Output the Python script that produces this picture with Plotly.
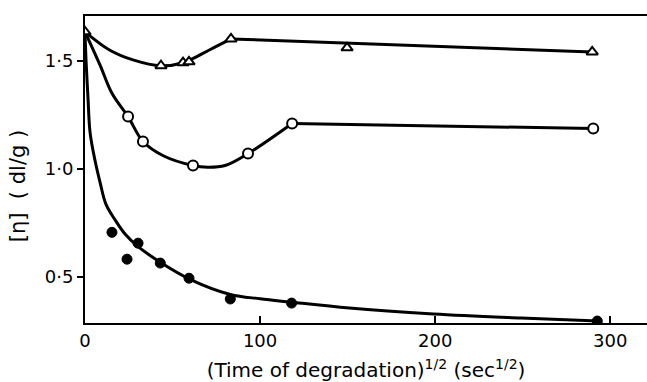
import plotly.graph_objects as go

# --- data ---
# triangles (open)
tri_x = [0, 43.4, 56, 59.4, 83.4, 149.7, 289.7]
tri_y = [1.634, 1.477, 1.491, 1.495, 1.601, 1.56, 1.541]
tri_curve_x = [0, 14, 27.4, 43.4, 56, 71, 83.4]
tri_curve_y = [1.634, 1.55, 1.504, 1.477, 1.491, 1.55, 1.601]
tri_line_x = [83.4, 289.7]
tri_line_y = [1.601, 1.541]

# open circles
circ_x = [24.6, 33.1, 61.7, 93.1, 118.3, 290.3]
circ_y = [1.242, 1.127, 1.016, 1.071, 1.21, 1.187]
circ_curve_x = [0, 8.6, 15.4, 24.6, 33.1, 45, 61.7, 70, 80, 93.1, 118.3]
circ_curve_y = [1.634, 1.48, 1.35, 1.242, 1.127, 1.06, 1.016, 1.008, 1.016, 1.071, 1.21]
circ_line_x = [118.3, 290.3]
circ_line_y = [1.21, 1.187]

# filled circles
dot_x = [15.4, 24, 30.3, 43, 59.4, 83, 118, 292.6]
dot_y = [0.707, 0.583, 0.657, 0.565, 0.495, 0.399, 0.380, 0.297]
dot_curve_x = [0, 0.6, 1.7, 2.9, 5.7, 8.6, 12, 17, 23, 30, 43, 60, 83, 100, 117, 151, 199, 249, 293]
dot_curve_y = [1.634, 1.50, 1.33, 1.168, 1.04, 0.938, 0.836, 0.767, 0.698, 0.643, 0.569,
               0.49, 0.42, 0.40, 0.385, 0.357, 0.33, 0.311, 0.297]

x_ticks = [0, 100, 200, 300]
x_ticktext = ["0", "100", "200", "300"]
y_ticks = [0.5, 1.0, 1.5]
y_ticktext = ["0·5", "1·0", "1·5"]
x_title = "(Time of degradation)<sup>1/2</sup> (sec<sup>1/2</sup>)"
y_title = "[η]  ( dl/g )"

LW = 3
fig = go.Figure()

def line(x, y, shape):
    fig.add_trace(go.Scatter(x=x, y=y, mode="lines",
                             line=dict(color="black", width=LW, shape=shape, smoothing=1.0),
                             hoverinfo="skip", showlegend=False))

line(tri_curve_x, tri_curve_y, "spline")
line(tri_line_x, tri_line_y, "linear")
line(circ_curve_x, circ_curve_y, "spline")
line(circ_line_x, circ_line_y, "linear")
line(dot_curve_x, dot_curve_y, "spline")

fig.add_trace(go.Scatter(x=tri_x, y=tri_y, mode="markers",
                         marker=dict(symbol="triangle-up", size=10, color="white",
                                     line=dict(color="black", width=2)),
                         showlegend=False))
fig.add_trace(go.Scatter(x=circ_x, y=circ_y, mode="markers",
                         marker=dict(symbol="circle", size=10, color="white",
                                     line=dict(color="black", width=2)),
                         showlegend=False))
fig.add_trace(go.Scatter(x=dot_x, y=dot_y, mode="markers",
                         marker=dict(symbol="circle", size=10, color="black",
                                     line=dict(color="black", width=1)),
                         showlegend=False))

font = "DejaVu Sans"

# y-axis title as a rotated annotation (placed a little below centre, as in the original)
fig.add_annotation(text=y_title, xref="paper", yref="paper", x=-0.119, y=0.446,
                   textangle=-90, showarrow=False, xanchor="center", yanchor="middle",
                   font=dict(size=21, family=font, color="black"))

fig.update_layout(
    width=647, height=382,
    margin=dict(l=85, r=0, t=16, b=59, autoexpand=False),
    paper_bgcolor="white", plot_bgcolor="white",
    font=dict(family=font, color="black"),
    xaxis=dict(range=[0, 321], tickvals=x_ticks, ticktext=x_ticktext,
               ticks="inside", ticklen=7, tickwidth=1.5, tickcolor="black",
               showline=True, linecolor="black", linewidth=2, mirror=True,
               showgrid=False, zeroline=False, automargin=False,
               tickfont=dict(size=18, family=font),
               title=dict(text=x_title, font=dict(size=20, family=font), standoff=14)),
    yaxis=dict(range=[0.288, 1.707], tickvals=y_ticks, ticktext=y_ticktext,
               ticks="outside", ticklen=6, tickwidth=1.5, tickcolor="black",
               showline=True, linecolor="black", linewidth=2,
               showgrid=False, zeroline=False, automargin=False,
               tickfont=dict(size=18, family=font)),
)

fig.write_html("out.html", config={"displayModeBar": False},
               post_script="document.body.style.margin='0';document.body.style.overflow='hidden';")
